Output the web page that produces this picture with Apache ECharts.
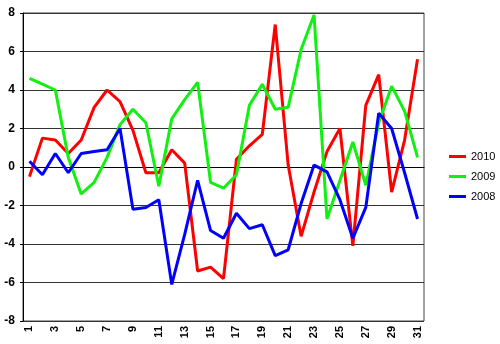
<!DOCTYPE html>
<html>
<head>
<meta charset="utf-8">
<script src="https://cdn.jsdelivr.net/npm/echarts@6/dist/echarts.min.js"></script>
<style>
html,body{margin:0;padding:0;background:#fff;}
#c{width:500px;height:344px;}
</style>
</head>
<body>
<div id="c"></div>
<script>
const days = Array.from({length: 31}, (_, i) => String(i + 1));
const s2010 = [-0.5,1.5,1.4,0.7,1.4,3.1,4.0,3.4,1.9,-0.3,-0.3,0.9,0.2,-5.4,-5.2,-5.8,0.4,1.1,1.7,7.4,0.1,-3.6,-1.3,0.8,2.0,-4.1,3.2,4.8,-1.3,1.4,5.6];
const s2009 = [4.6,4.3,4.0,0.5,-1.4,-0.8,0.5,2.2,3.0,2.3,-1.0,2.5,3.5,4.4,-0.8,-1.1,-0.4,3.2,4.3,3.0,3.1,6.1,7.9,-2.7,-0.7,1.3,-0.95,2.3,4.2,2.9,0.5];
const s2008 = [0.3,-0.4,0.7,-0.3,0.7,0.8,0.9,2.0,-2.2,-2.1,-1.7,-6.1,-3.5,-0.7,-3.3,-3.7,-2.4,-3.2,-3.0,-4.6,-4.3,-1.9,0.1,-0.25,-1.7,-3.7,-2.1,2.8,2.0,-0.3,-2.7];
const seriesNames = ['2010','2009','2008'];
const seriesColors = ['#ff0000','#11f011','#0000ff'];
const seriesData = [s2010, s2009, s2008];

const chart = echarts.init(document.getElementById('c'), null, {renderer: 'canvas'});
chart.setOption({
  animation: false,
  backgroundColor: '#fff',
  textStyle: {fontFamily: 'Liberation Sans, Arial, sans-serif'},
  grid: {left: 23, right: 76, top: 13, bottom: 23, show: true, borderColor: '#444', borderWidth: 1},
  legend: {
    orient: 'vertical', left: 444, top: 145,
    itemWidth: 17, itemHeight: 3, itemGap: 7,
    icon: 'rect',
    data: seriesNames,
    textStyle: {fontSize: 11, color: '#000', lineHeight: 13, fontFamily: 'Liberation Sans, Arial, sans-serif'}
  },
  xAxis: {
    type: 'category', data: days, boundaryGap: true,
    axisLine: {show: true, lineStyle: {color: '#000', width: 1}},
    axisTick: {show: false},
    axisLabel: {interval: 1, rotate: 90, fontSize: 11, fontWeight: 'bold', color: '#000', margin: 5,
      fontFamily: 'Liberation Sans, Arial, sans-serif'},
    splitLine: {show: false}
  },
  yAxis: {
    type: 'value', min: -8, max: 8, interval: 2,
    axisLine: {show: true, onZero: false, lineStyle: {color: '#000', width: 1}},
    axisTick: {show: true, length: 3, lineStyle: {color: '#000'}},
    axisLabel: {fontSize: 12, fontWeight: 'bold', color: '#000', margin: 8,
      fontFamily: 'Liberation Sans, Arial, sans-serif'},
    splitLine: {show: true, lineStyle: {color: '#333', width: 1}}
  },
  series: seriesNames.map((n, i) => ({
    name: n, type: 'line', data: seriesData[i],
    symbol: 'none', smooth: false,
    lineStyle: {color: seriesColors[i], width: 3},
    itemStyle: {color: seriesColors[i]}
  }))
});
</script>
</body>
</html>
